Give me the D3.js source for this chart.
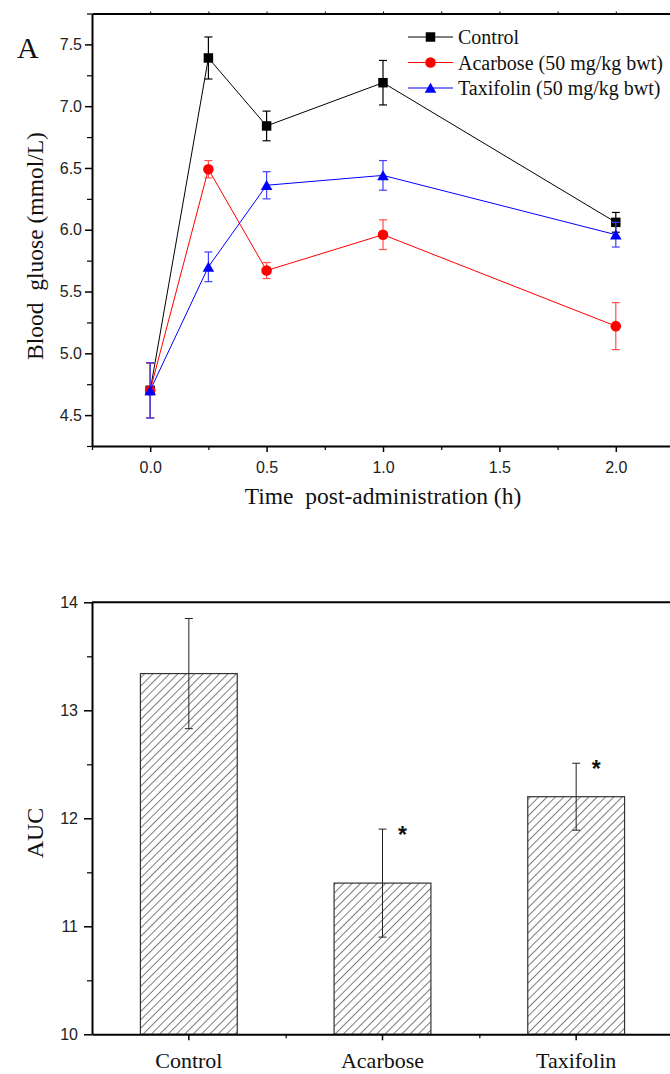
<!DOCTYPE html>
<html>
<head>
<meta charset="utf-8">
<script src="https://cdn.jsdelivr.net/npm/d3@7"></script>
<style>
  body { margin: 0; background: #fff; }
  svg { display: block; }
  .tick-label { font-family: "Liberation Sans", Arial, sans-serif; font-size: 16px; fill: #222; }
  .serif { font-family: "Liberation Serif", "Times New Roman", serif; fill: #111; }
</style>
</head>
<body>
<div id="chart"></div>
<script>
// time points (h)
const times = [0, 0.25, 0.5, 1.0, 2.0];
const seriesNames = ["Control", "Acarbose (50 mg/kg bwt)", "Taxifolin (50 mg/kg bwt)"];
const controlMean = [4.70, 7.39, 6.84, 7.19, 6.06];
const controlErr = [0.22, 0.17, 0.12, 0.18, 0.08];
const acarboseMean = [4.70, 6.49, 5.67, 5.96, 5.22];
const acarboseErr = [0.22, 0.07, 0.065, 0.12, 0.19];
const taxifolinMean = [4.70, 5.70, 6.36, 6.44, 5.96];
const taxifolinErr = [0.225, 0.12, 0.11, 0.12, 0.10];
const timeTicks = [0, 0.5, 1.0, 1.5, 2.0];
const glucoseTicks = [4.5, 5.0, 5.5, 6.0, 6.5, 7.0, 7.5];

// AUC bars
const groups = ["Control", "Acarbose", "Taxifolin"];
const aucMean = [13.34, 11.40, 12.20];
const aucErr = [0.51, 0.50, 0.31];
const aucSignif = [false, true, true];
const aucTicks = [10, 11, 12, 13, 14];

const W = 670, H = 1074;
const svg = d3.select("#chart").append("svg").attr("width", W).attr("height", H);

// diagonal hatch for the bars
const defs = svg.append("defs");
const pat = defs.append("pattern")
    .attr("id", "hatch")
    .attr("patternUnits", "userSpaceOnUse")
    .attr("width", 5.9).attr("height", 5.9)
    .attr("patternTransform", "rotate(45)");
pat.append("line")
    .attr("x1", 0).attr("y1", 0).attr("x2", 0).attr("y2", 5.9)
    .attr("stroke", "#111").attr("stroke-width", 1.1);

//////////// panel A: line chart ////////////
const x = d3.scaleLinear().domain([-0.25, 2.25]).range([92, 674]);
const y = d3.scaleLinear().domain([4.25, 7.75]).range([446, 13.5]);

const panelA = svg.append("g");

// axes
panelA.append("g")
    .attr("transform", "translate(0,446)")
    .call(d3.axisBottom(x).tickValues(timeTicks).tickFormat(d3.format(".1f")).tickSize(6).tickSizeOuter(0))
    .call(g => g.select(".domain").attr("stroke-width", 2))
    .call(g => g.selectAll(".tick line").attr("stroke-width", 1.5))
    .call(g => g.selectAll(".tick text").attr("class", "tick-label").attr("y", 27).attr("dy", 0));
panelA.append("g")
    .attr("transform", "translate(0,446)")
    .call(d3.axisBottom(x).tickValues(d3.range(-0.25, 2.3, 0.5)).tickFormat("").tickSize(4).tickSizeOuter(0))
    .call(g => g.select(".domain").remove())
    .call(g => g.selectAll(".tick line").attr("stroke-width", 1.2));
panelA.append("g")
    .attr("transform", "translate(0,13.5)")
    .call(d3.axisTop(x).tickValues(d3.range(0, 2.3, 0.25)).tickFormat("").tickSize(2).tickSizeOuter(0))
    .call(g => g.select(".domain").attr("stroke-width", 2));

panelA.append("g")
    .attr("transform", "translate(92,0)")
    .call(d3.axisLeft(y).tickValues(glucoseTicks).tickFormat(d3.format(".1f")).tickSize(7).tickSizeOuter(0))
    .call(g => g.select(".domain").attr("stroke-width", 2))
    .call(g => g.selectAll(".tick line").attr("stroke-width", 1.5))
    .call(g => g.selectAll(".tick text").attr("class", "tick-label").attr("x", -10));
panelA.append("g")
    .attr("transform", "translate(92,0)")
    .call(d3.axisLeft(y).tickValues(d3.range(4.25, 7.8, 0.5)).tickFormat("").tickSize(5).tickSizeOuter(0))
    .call(g => g.select(".domain").remove())
    .call(g => g.selectAll(".tick line").attr("stroke-width", 1.2));

// series
const series = [
  { name: seriesNames[0], mean: controlMean, err: controlErr, color: "#000", errColor: "#000", shape: d3.symbolSquare, size: 90 },
  { name: seriesNames[1], mean: acarboseMean, err: acarboseErr, color: "#ff0000", errColor: "#ff5050", shape: d3.symbolCircle, size: 88 },
  { name: seriesNames[2], mean: taxifolinMean, err: taxifolinErr, color: "#0000ff", errColor: "#4040ff", shape: d3.symbolTriangle, size: 58 }
];

const line = d3.line().x((d, i) => x(times[i])).y(d => y(d));
const triShift = s => (s.shape === d3.symbolTriangle ? 1.5 : 0);

series.forEach(s => {
  const g = panelA.append("g");
  g.append("path")
      .attr("d", line(s.mean))
      .attr("fill", "none")
      .attr("stroke", s.color)
      .attr("stroke-width", 1);
  const eb = g.selectAll("g.err").data(s.mean).join("g").attr("class", "err")
      .attr("stroke", s.errColor).attr("stroke-width", 1.2);
  eb.append("line")
      .attr("x1", (d, i) => x(times[i])).attr("x2", (d, i) => x(times[i]))
      .attr("y1", (d, i) => y(d - s.err[i])).attr("y2", (d, i) => y(d + s.err[i]));
  eb.append("line")
      .attr("x1", (d, i) => x(times[i]) - 4).attr("x2", (d, i) => x(times[i]) + 4)
      .attr("y1", (d, i) => y(d + s.err[i])).attr("y2", (d, i) => y(d + s.err[i]));
  eb.append("line")
      .attr("x1", (d, i) => x(times[i]) - 4).attr("x2", (d, i) => x(times[i]) + 4)
      .attr("y1", (d, i) => y(d - s.err[i])).attr("y2", (d, i) => y(d - s.err[i]));
  g.selectAll("path.mark").data(s.mean).join("path")
      .attr("class", "mark")
      .attr("transform", (d, i) => `translate(${x(times[i])},${y(d) + triShift(s)})`)
      .attr("d", d3.symbol(s.shape, s.size))
      .attr("fill", s.color);
});

// legend
const legend = panelA.append("g").attr("transform", "translate(408,37)");
series.forEach((s, i) => {
  const row = legend.append("g").attr("transform", `translate(0,${i * 25.5})`);
  row.append("line").attr("x1", 0).attr("x2", 45).attr("stroke", s.color).attr("stroke-width", 1);
  row.append("path").attr("transform", `translate(22.5,${triShift(s)})`)
      .attr("d", d3.symbol(s.shape, s.size)).attr("fill", s.color);
  row.append("text").attr("class", "serif").attr("x", 50).attr("y", 7)
      .attr("font-size", 20).text(s.name);
});

// titles
panelA.append("text").attr("class", "serif").attr("x", 17).attr("y", 58)
    .attr("font-size", 30).text("A");
panelA.append("text").attr("class", "serif")
    .attr("transform", "translate(43,246) rotate(-90)")
    .attr("text-anchor", "middle").attr("font-size", 23.5)
    .attr("xml:space", "preserve")
    .text("Blood  gluose (mmol/L)");
panelA.append("text").attr("class", "serif")
    .attr("x", 383).attr("y", 504)
    .attr("text-anchor", "middle").attr("font-size", 23.5)
    .attr("xml:space", "preserve")
    .text("Time  post-administration (h)");

//////////// panel B: AUC bars ////////////
const xb = d3.scaleBand().domain(groups).range([92, 673]).paddingInner(0.5).paddingOuter(0.25);
const yb = d3.scaleLinear().domain([10, 14]).range([1034.3, 602.3]);
const aucData = groups.map((g, i) => ({ group: g, mean: aucMean[i], err: aucErr[i], signif: aucSignif[i] }));
const cx = d => xb(d.group) + xb.bandwidth() / 2;

const panelB = svg.append("g");

panelB.selectAll("rect.bar").data(aucData).join("rect")
    .attr("class", "bar")
    .attr("x", d => xb(d.group))
    .attr("width", xb.bandwidth())
    .attr("y", d => yb(d.mean))
    .attr("height", d => yb(10) - yb(d.mean))
    .attr("fill", "url(#hatch)")
    .attr("stroke", "#333")
    .attr("stroke-width", 1.2);

const ebB = panelB.selectAll("g.errb").data(aucData).join("g").attr("class", "errb")
    .attr("stroke", "#222").attr("stroke-width", 1);
ebB.append("line")
    .attr("x1", cx).attr("x2", cx)
    .attr("y1", d => yb(d.mean - d.err)).attr("y2", d => yb(d.mean + d.err));
ebB.append("line")
    .attr("x1", d => cx(d) - 4).attr("x2", d => cx(d) + 4)
    .attr("y1", d => yb(d.mean + d.err)).attr("y2", d => yb(d.mean + d.err));
ebB.append("line")
    .attr("x1", d => cx(d) - 4).attr("x2", d => cx(d) + 4)
    .attr("y1", d => yb(d.mean - d.err)).attr("y2", d => yb(d.mean - d.err));

panelB.selectAll("text.star").data(aucData.filter(d => d.signif)).join("text")
    .attr("class", "star")
    .attr("x", d => cx(d) + 20)
    .attr("y", d => yb(d.mean + d.err) + 14)
    .attr("text-anchor", "middle")
    .attr("font-family", "Liberation Sans, Arial, sans-serif")
    .attr("font-weight", "bold")
    .attr("font-size", 23)
    .attr("fill", "#111")
    .text("*");

// axes
const xbMinor = d3.scaleLinear().domain([-0.5, 2.5]).range([92, 673]);
panelB.append("g")
    .attr("transform", "translate(0,1034.3)")
    .call(d3.axisBottom(xb).tickSize(6).tickSizeOuter(0))
    .call(g => g.select(".domain").attr("stroke-width", 2))
    .call(g => g.selectAll(".tick line").attr("stroke-width", 1.5))
    .call(g => g.selectAll(".tick text").attr("class", "serif").attr("font-size", 22)
        .attr("y", 34).attr("dy", 0));
panelB.append("g")
    .attr("transform", "translate(0,1034.3)")
    .call(d3.axisBottom(xbMinor).tickValues([0.5, 1.5]).tickFormat("").tickSize(4).tickSizeOuter(0))
    .call(g => g.select(".domain").remove())
    .call(g => g.selectAll(".tick line").attr("stroke-width", 1.2));
panelB.append("line")
    .attr("x1", 92).attr("x2", 673).attr("y1", 602.3).attr("y2", 602.3)
    .attr("stroke", "#000").attr("stroke-width", 2);

panelB.append("g")
    .attr("transform", "translate(92,0)")
    .call(d3.axisLeft(yb).tickValues(aucTicks).tickFormat(d3.format("d")).tickSize(8).tickSizeOuter(0))
    .call(g => g.select(".domain").attr("stroke-width", 2))
    .call(g => g.selectAll(".tick line").attr("stroke-width", 1.5))
    .call(g => g.selectAll(".tick text").attr("class", "tick-label").attr("x", -14));
panelB.append("g")
    .attr("transform", "translate(92,0)")
    .call(d3.axisLeft(yb).tickValues([10.5, 11.5, 12.5, 13.5]).tickFormat("").tickSize(5).tickSizeOuter(0))
    .call(g => g.select(".domain").remove())
    .call(g => g.selectAll(".tick line").attr("stroke-width", 1.2));

panelB.append("text").attr("class", "serif")
    .attr("transform", "translate(43,833) rotate(-90)")
    .attr("text-anchor", "middle").attr("font-size", 24)
    .text("AUC");
</script>
</body>
</html>
